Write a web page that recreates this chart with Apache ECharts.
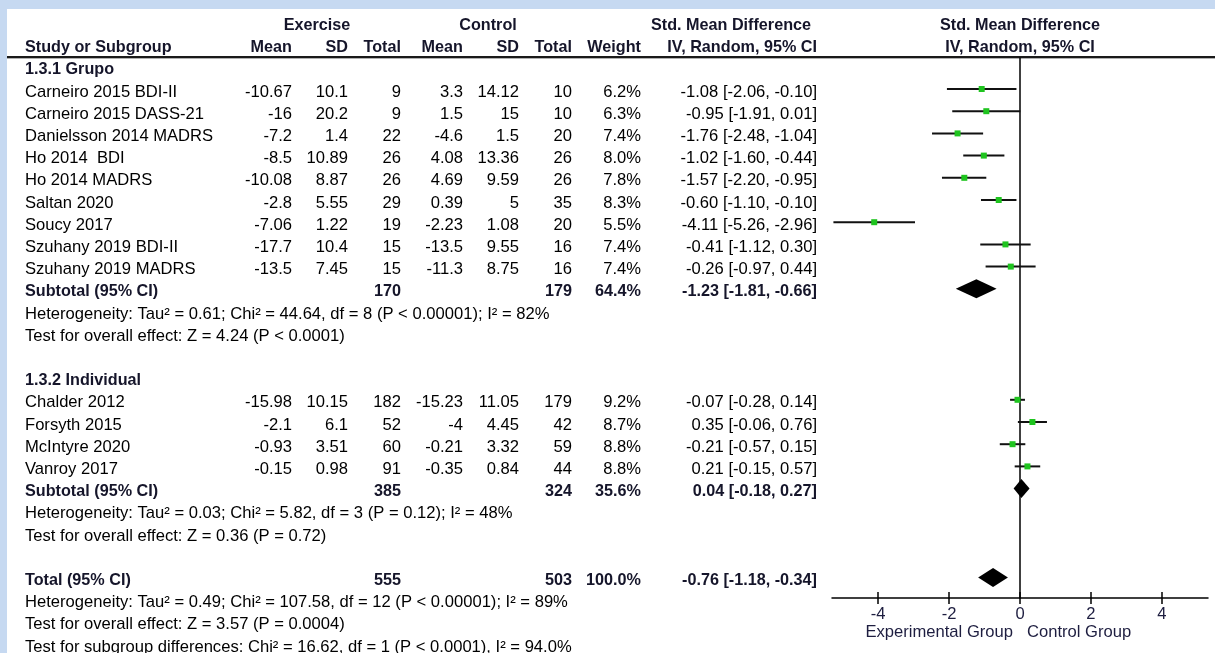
<!DOCTYPE html>
<html><head><meta charset="utf-8">
<script src="https://cdn.jsdelivr.net/npm/echarts@6/dist/echarts.min.js"></script>
<style>
html,body{margin:0;padding:0;background:#c6d9f1;width:1215px;height:653px;overflow:hidden}
#panel{position:absolute;left:7px;top:9px;width:1208px;height:644px;background:#fff}
#chart{position:absolute;left:0;top:0;width:1215px;height:653px}
</style></head><body><div id="panel"></div><div id="chart"></div>
<script>
// ---------------- DATA ----------------
const studies = ['Carneiro 2015 BDI-II','Carneiro 2015 DASS-21','Danielsson 2014 MADRS','Ho 2014  BDI','Ho 2014 MADRS','Saltan 2020','Soucy 2017','Szuhany 2019 BDI-II','Szuhany 2019 MADRS','Chalder 2012','Forsyth 2015','McIntyre 2020','Vanroy 2017'];
const studyGroup = [1,1,1,1,1,1,1,1,1,2,2,2,2];
const exMean = [-10.67,-16,-7.2,-8.5,-10.08,-2.8,-7.06,-17.7,-13.5,-15.98,-2.1,-0.93,-0.15];
const exSD = [10.1,20.2,1.4,10.89,8.87,5.55,1.22,10.4,7.45,10.15,6.1,3.51,0.98];
const exN = [9,9,22,26,26,29,19,15,15,182,52,60,91];
const ctMean = [3.3,1.5,-4.6,4.08,4.69,0.39,-2.23,-13.5,-11.3,-15.23,-4,-0.21,-0.35];
const ctSD = [14.12,15,1.5,13.36,9.59,5,1.08,9.55,8.75,11.05,4.45,3.32,0.84];
const ctN = [10,10,20,26,26,35,20,16,16,179,42,59,44];
const weight = [6.2,6.3,7.4,8.0,7.8,8.3,5.5,7.4,7.4,9.2,8.7,8.8,8.8];
const smd = [-1.08,-0.95,-1.76,-1.02,-1.57,-0.60,-4.11,-0.41,-0.26,-0.07,0.35,-0.21,0.21];
const ciLow = [-2.06,-1.91,-2.48,-1.60,-2.20,-1.10,-5.26,-1.12,-0.97,-0.28,-0.06,-0.57,-0.15];
const ciHigh = [-0.10,0.01,-1.04,-0.44,-0.95,-0.10,-2.96,0.30,0.44,0.14,0.76,0.15,0.57];

const subgroupNames = ['1.3.1 Grupo','1.3.2 Individual'];
const subExN = [170,385];
const subCtN = [179,324];
const subWeight = [64.4,35.6];
const subSmd = [-1.23,0.04];
const subLow = [-1.81,-0.18];
const subHigh = [-0.66,0.27];
const subHet = ['Heterogeneity: Tau\u00B2 = 0.61; Chi\u00B2 = 44.64, df = 8 (P < 0.00001); I\u00B2 = 82%',
                'Heterogeneity: Tau\u00B2 = 0.03; Chi\u00B2 = 5.82, df = 3 (P = 0.12); I\u00B2 = 48%'];
const subTest = ['Test for overall effect: Z = 4.24 (P < 0.0001)','Test for overall effect: Z = 0.36 (P = 0.72)'];

const totalStats = {exN:555, ctN:503, weight:100.0, smd:-0.76, low:-1.18, high:-0.34};
const totalNotes = ['Heterogeneity: Tau\u00B2 = 0.49; Chi\u00B2 = 107.58, df = 12 (P < 0.00001); I\u00B2 = 89%',
                    'Test for overall effect: Z = 3.57 (P = 0.0004)',
                    'Test for subgroup differences: Chi\u00B2 = 16.62, df = 1 (P < 0.0001), I\u00B2 = 94.0%'];
const xTicks = [-4,-2,0,2,4];
const favourLabels = ['Experimental Group','Control Group'];

// ---------------- LAYOUT ----------------
const ROW_H = 22.2, FIRST_ROW_Y = 89, TEXT_DY = 3;
const W = 1215, H = 653;
const PLOT = {left:832, right:1208, top:58, bottom:598};
const cols = {
  name:{x:25,align:'left'}, exMean:{x:292,align:'right'}, exSD:{x:348,align:'right'}, exN:{x:401,align:'right'},
  ctMean:{x:463,align:'right'}, ctSD:{x:519,align:'right'}, ctN:{x:572,align:'right'}, weight:{x:641,align:'right'},
  ci:{x:817,align:'right'}, exHead:{x:317,align:'center'}, ctHead:{x:488,align:'center'},
  smdHead:{x:731,align:'center'}, plotHead:{x:1020,align:'center'}
};
const FONT = '"Liberation Sans", Arial, sans-serif';
const REG_SIZE = 16.6, BOLD_SIZE = 16.2;
const f2 = v => v.toFixed(2);
const ciText = (e,l,h) => f2(e) + ' [' + f2(l) + ', ' + f2(h) + ']';

// ---------------- BUILD ROWS ----------------
const tableRows = [];
const studyRows = [];
const diamondRows = [];
tableRows.push({row:-3, cells:[['exHead','Exercise',1],['ctHead','Control',1],['smdHead','Std. Mean Difference',1],['plotHead','Std. Mean Difference',1]]});
tableRows.push({row:-2, cells:[['name','Study or Subgroup',1],['exMean','Mean',1],['exSD','SD',1],['exN','Total',1],['ctMean','Mean',1],['ctSD','SD',1],['ctN','Total',1],['weight','Weight',1],['ci','IV, Random, 95% CI',1],['plotHead','IV, Random, 95% CI',1]]});
let r = -1;
for (let g = 0; g < subgroupNames.length; g++) {
  tableRows.push({row:r, cells:[['name',subgroupNames[g],1]]}); r++;
  for (let i = 0; i < studies.length; i++) {
    if (studyGroup[i] !== g + 1) continue;
    tableRows.push({row:r, cells:[['name',studies[i]],['exMean',String(exMean[i])],['exSD',String(exSD[i])],['exN',String(exN[i])],
      ['ctMean',String(ctMean[i])],['ctSD',String(ctSD[i])],['ctN',String(ctN[i])],['weight',weight[i].toFixed(1)+'%'],
      ['ci',ciText(smd[i],ciLow[i],ciHigh[i])]]});
    studyRows.push([smd[i],ciLow[i],ciHigh[i],r]);
    r++;
  }
  tableRows.push({row:r, cells:[['name','Subtotal (95% CI)',1],['exN',String(subExN[g]),1],['ctN',String(subCtN[g]),1],
    ['weight',subWeight[g].toFixed(1)+'%',1],['ci',ciText(subSmd[g],subLow[g],subHigh[g]),1]]});
  diamondRows.push([subSmd[g],subLow[g],subHigh[g],r]); r++;
  tableRows.push({row:r, cells:[['name',subHet[g]]]}); r++;
  tableRows.push({row:r, cells:[['name',subTest[g]]]}); r++;
  r++;
}
tableRows.push({row:r, cells:[['name','Total (95% CI)',1],['exN',String(totalStats.exN),1],['ctN',String(totalStats.ctN),1],
  ['weight',totalStats.weight.toFixed(1)+'%',1],['ci',ciText(totalStats.smd,totalStats.low,totalStats.high),1]]});
diamondRows.push([totalStats.smd,totalStats.low,totalStats.high,r]); r++;
totalNotes.forEach(t => { tableRows.push({row:r, cells:[['name',t]]}); r++; });

// ---------------- CHART ----------------
const chart = echarts.init(document.getElementById('chart'), null, {renderer:'canvas'});
const rowMin0 = -FIRST_ROW_Y / ROW_H, rowMax0 = (H - FIRST_ROW_Y) / ROW_H;
const rowMin1 = (PLOT.top - FIRST_ROW_Y) / ROW_H, rowMax1 = (PLOT.bottom - FIRST_ROW_Y) / ROW_H;
const hidden = {show:false};
const option = {
  backgroundColor:'transparent',
  animation:false,
  grid:[
    {left:0, top:0, width:W, height:H, outerBoundsMode:'none'},
    {left:PLOT.left, top:PLOT.top, width:PLOT.right-PLOT.left, height:PLOT.bottom-PLOT.top, outerBoundsMode:'none'}
  ],
  xAxis:[
    {type:'value', gridIndex:0, min:0, max:W, axisLine:hidden, axisTick:hidden, axisLabel:hidden, splitLine:hidden},
    {type:'value', gridIndex:1, min:-5.3, max:5.3, position:'bottom',
      axisLine:{show:true, onZero:false, lineStyle:{color:'#000', width:1.5}},
      axisTick:{show:true, length:6, customValues:xTicks, lineStyle:{color:'#000', width:1.5}},
      axisLabel:{show:true, customValues:xTicks, margin:8, fontSize:REG_SIZE, fontFamily:FONT, color:'#1e1e40'},
      splitLine:hidden},
    {type:'value', gridIndex:1, min:-5.3, max:5.3, position:'bottom', offset:0,
      axisLine:{show:false, onZero:false},
      axisTick:{show:true, inside:true, length:6, customValues:xTicks, lineStyle:{color:'#000', width:1.5}},
      axisLabel:hidden, splitLine:hidden}
  ],
  yAxis:[
    {type:'value', gridIndex:0, inverse:true, min:rowMin0, max:rowMax0, axisLine:hidden, axisTick:hidden, axisLabel:hidden, splitLine:hidden},
    {type:'value', gridIndex:1, inverse:true, min:rowMin1, max:rowMax1,
      axisLine:{show:true, onZero:true, onZeroAxisIndex:1, lineStyle:{color:'#000', width:1.5}},
      axisTick:hidden, axisLabel:hidden, splitLine:hidden}
  ],
  graphic:[
    {type:'rect', shape:{x:7, y:56, width:W-7, height:2}, style:{fill:'#1a1a1a'}, silent:true},
    {type:'rect', shape:{x:7, y:58, width:W-7, height:1}, style:{fill:'#b0b0b0'}, silent:true},
    {type:'text', x:PLOT.left + (PLOT.right-PLOT.left)/2 - 7, y:632, style:{text:favourLabels[0], align:'right', verticalAlign:'middle', fontSize:REG_SIZE, fontFamily:FONT, fill:'#1e1e40'}, silent:true},
    {type:'text', x:PLOT.left + (PLOT.right-PLOT.left)/2 + 7, y:632, style:{text:favourLabels[1], align:'left', verticalAlign:'middle', fontSize:REG_SIZE, fontFamily:FONT, fill:'#1e1e40'}, silent:true}
  ],
  series:[
    {type:'custom', name:'table', xAxisIndex:0, yAxisIndex:0, silent:true, clip:false,
      data: tableRows.map((t,i) => [0, t.row, i]),
      encode:{x:0, y:1},
      renderItem:(params, api) => {
        const spec = tableRows[params.dataIndex];
        return {type:'group', children: spec.cells.map(c => {
          const col = cols[c[0]];
          const p = api.coord([col.x, spec.row]);
          return {type:'text', x:p[0], y:p[1] + TEXT_DY,
            style:{text:c[1], align:col.align, verticalAlign:'middle', fontSize:c[2] ? BOLD_SIZE : REG_SIZE, fontFamily:FONT,
              fontWeight:c[2] ? 'bold' : 'normal', fill:c[2] ? '#15152a' : '#000'}};
        })};
      }},
    {type:'custom', name:'studies', xAxisIndex:1, yAxisIndex:1, silent:true, clip:false,
      data: studyRows, encode:{x:[0,1,2], y:3},
      renderItem:(params, api) => {
        const y = api.value(3);
        const a = api.coord([api.value(1), y]), b = api.coord([api.value(2), y]), c = api.coord([api.value(0), y]);
        return {type:'group', children:[
          {type:'line', shape:{x1:a[0], y1:a[1], x2:b[0], y2:b[1]}, style:{stroke:'#111', lineWidth:2}},
          {type:'rect', shape:{x:c[0]-3, y:c[1]-3, width:6, height:6}, style:{fill:'#1fc41f'}}
        ]};
      }},
    {type:'custom', name:'diamonds', xAxisIndex:1, yAxisIndex:1, silent:true, clip:false,
      data: diamondRows, encode:{x:[0,1,2], y:3},
      renderItem:(params, api) => {
        const y = api.value(3);
        const e = api.coord([api.value(0), y]), l = api.coord([api.value(1), y]), h = api.coord([api.value(2), y]);
        const hh = 9.5;
        return {type:'polygon', shape:{points:[[l[0], l[1]], [e[0], e[1]-hh], [h[0], h[1]], [e[0], e[1]+hh]]}, style:{fill:'#000'}};
      }}
  ]
};
chart.setOption(option);
</script></body></html>
